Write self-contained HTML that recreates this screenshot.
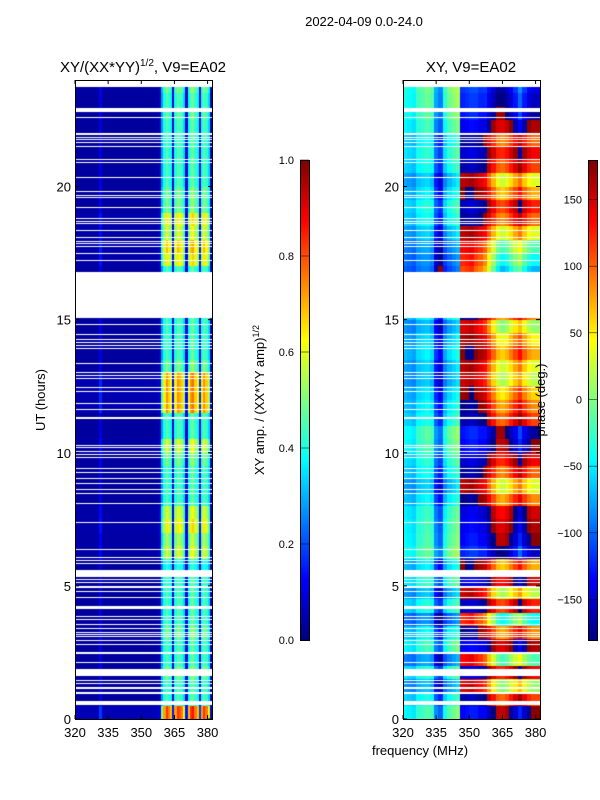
<!DOCTYPE html>
<html><head><meta charset="utf-8">
<style>
body{margin:0;background:#fff;width:600px;height:800px;overflow:hidden;font-family:"Liberation Sans",sans-serif;}
#wrap{position:relative;width:600px;height:800px;}
canvas{position:absolute;}
svg{position:absolute;left:0;top:0;}
</style></head>
<body>
<div id="wrap">
<canvas id="c1" width="137" height="639" style="left:75px;top:80px"></canvas>
<canvas id="c2" width="137" height="639" style="left:403px;top:80px"></canvas>
<canvas id="cb1" width="9" height="480" style="left:300px;top:160px"></canvas>
<canvas id="cb2" width="9" height="480" style="left:588px;top:160px"></canvas>
<svg id="ov" width="600" height="800"></svg>
</div>
<script>
// ---- data ----
const freqMin = 320, freqMax = 382;
const hourTicks = [0,5,10,15,20];
const freqTicks = [320,335,350,365,380];
const ampTicks = [0.0,0.2,0.4,0.6,0.8,1.0];
const phaseTicks = [-150,-100,-50,0,50,100,150];
// amplitude per 1 MHz channel (320..381)
const ampChan = [0.03,0.03,0.03,0.03,0.03,0.03,0.03,0.03,0.03,0.03,0.03,0.1,0.03,0.03,0.03,0.03,0.03,0.03,0.03,0.03,
 0.03,0.03,0.03,0.03,0.03,0.03,0.03,0.03,0.03,0.03,0.03,0.03,0.03,0.03,0.03,0.03,0.03,0.04,0.05,0.28,
 0.4,0.46,0.42,0.38,0.08,0.4,0.46,0.44,0.42,0.34,0.08,0.38,0.46,0.48,0.42,0.38,0.1,0.4,0.46,0.42,0.34,0.04];
// amplitude scale per half hour (0..24)
const ampHalfHour = [1.8,1.0,1.0,1.1,1.0,1.0,1.1,1.0,1.0,1.0,1.0,0.9,1.3,1.2,1.4,1.3,1.0,1.0,1.0,1.1,1.3,1.0,
 1.0,1.6,1.6,1.6,1.1,1.0,1.0,1.0,1.0,1.0,1.0,1.0,1.4,1.5,1.3,1.4,1.1,1.1,1.0,1.0,1.0,1.0,1.0,1.05,1.0,1.1];
// phase base per 2 MHz group (320..382)
const phaseChan = [-70,-75,-80,-60,-55,-50,-60,-120,-140,-80,-60,-50,-40,170,175,180,170,160,150,120,90,60,50,60,80,100,120,90,70,60,60];
const phaseGain = [0.3,0.3,0.3,0.35,0.35,0.4,0.4,0.4,0.45,0.45,0.5,0.5,0.5,0.6,0.6,0.6,0.7,0.7,0.8,0.9,1.0,1.1,1.2,1.2,1.2,1.2,1.3,1.3,1.3,1.3,1.3];
// phase offset per half hour
const phaseHalfHour = [90,40,-40,60,-60,80,20,-80,50,-30,70,10,110,90,80,70,20,-20,30,60,90,100,40,20,
 0,-30,-20,10,-10,-40,20,-60,-90,-100,-80,-60,-20,30,50,10,-20,40,60,30,80,100,110,120];
// data coverage [start,end] hours
const coverage = [[0,15.05],[16.77,23.75]];
// flagged (white) time ranges in hours
const gaps = [[0.53,0.68],[0.93,0.96],[1.0,1.03],[1.12,1.15],[1.19,1.22],[1.34,1.37],[1.45,1.48],[1.61,1.88],[2.09,2.13],[2.46,2.52],
[2.8,2.83],[2.95,2.98],[3.07,3.1],[3.18,3.21],[3.25,3.28],[3.37,3.4],[3.55,3.58],[3.74,3.77],[3.82,3.85],[4.13,4.24],
[4.57,4.6],[4.76,4.79],[4.91,4.94],[4.98,5.01],[5.13,5.16],[5.21,5.24],[5.33,5.59],[5.84,5.87],[5.96,5.99],[6.07,6.1],
[6.37,6.4],[7.38,7.41],[8.09,8.12],[8.47,8.5],[8.62,8.65],[8.85,8.88],[9.03,9.06],[9.26,9.29],[9.38,9.44],[9.82,9.85],
[9.93,9.96],[10.05,10.08],[10.2,10.23],[10.27,10.3],[11.27,11.33],[11.62,11.65],[11.85,11.88],[12.3,12.33],[12.45,12.48],[12.79,12.82],
[12.9,12.93],[13.01,13.04],[13.35,13.38],[13.91,13.94],[14.02,14.05],[14.14,14.17],[14.25,14.28],[14.44,14.47],[14.81,14.84],
[17.21,17.24],[17.48,17.51],[17.74,17.77],[17.85,17.88],[17.93,17.96],[18.08,18.11],[18.34,18.37],[18.6,18.63],[18.68,18.71],[18.79,18.82],
[19.2,19.23],[19.58,19.61],[19.65,19.68],[19.8,19.83],[20.33,20.36],[20.89,20.93],[21.0,21.03],[21.49,21.52],[21.64,21.67],[21.75,21.78],
[21.83,21.86],[21.94,21.97],[21.98,22.01],[22.58,22.61],[22.78,22.96]];

// ---- helpers ----
const W = 137, H = 639;
function xOf(f){ return (f - freqMin) / (freqMax - freqMin) * W; }
function yOf(h){ return H - h / 24 * H; }
function jet(v){
  v = Math.max(0, Math.min(1, v));
  const r = Math.max(0, Math.min(1, 1.5 - Math.abs(4*v - 3)));
  const g = Math.max(0, Math.min(1, 1.5 - Math.abs(4*v - 2)));
  const b = Math.max(0, Math.min(1, 1.5 - Math.abs(4*v - 1)));
  return 'rgb(' + Math.round(r*255) + ',' + Math.round(g*255) + ',' + Math.round(b*255) + ')';
}
function wrap(p){ return ((p + 180) % 360 + 360) % 360 - 180; }

function drawPanel(id, valFn){
  const ctx = document.getElementById(id).getContext('2d');
  ctx.fillStyle = '#fff'; ctx.fillRect(0,0,W,H);
  for (let r = 0; r < 48; r++){
    for (let c = 0; c < ampChan.length; c++){
      const f0 = freqMin + c, h0 = r * 0.5;
      ctx.fillStyle = jet(valFn(r, c));
      for (const cv of coverage){
        const a = Math.max(h0, cv[0]), b = Math.min(h0 + 0.5, cv[1]);
        if (b > a){
          const x0 = Math.round(xOf(f0)), x1 = Math.round(xOf(f0 + 1));
          const y0 = Math.round(yOf(b)), y1 = Math.round(yOf(a));
          ctx.fillRect(x0, y0, x1 - x0, y1 - y0);
        }
      }
    }
  }
  ctx.fillStyle = '#fff';
  gaps.forEach(g => {
    const y0 = Math.round(yOf(g[1])), y1 = Math.round(yOf(g[0]));
    ctx.fillRect(0, y0, W, Math.max(1, y1 - y0));
  });
}
drawPanel('c1', (r, c) => ampChan[c] * ampHalfHour[r]);
drawPanel('c2', (r, c) => {
  const g = Math.floor(c / 2);
  return (wrap(phaseChan[g] + phaseHalfHour[r] * phaseGain[g]) + 180) / 360;
});
['cb1','cb2'].forEach(id => {
  const ctx = document.getElementById(id).getContext('2d');
  for (let y = 0; y < 480; y++){ ctx.fillStyle = jet(1 - y / 479); ctx.fillRect(0, y, 9, 1); }
});

// ---- axes overlay ----
const NS = 'http://www.w3.org/2000/svg';
const svg = document.getElementById('ov');
function el(tag, attrs, txt){
  const e = document.createElementNS(NS, tag);
  for (const k in attrs) e.setAttribute(k, attrs[k]);
  if (txt !== undefined) e.textContent = txt;
  svg.appendChild(e); return e;
}
function text(x, y, s, anchor, size, name, rot){
  const t = el('text', {x:x, y:y, 'text-anchor':anchor, 'font-size':size, 'font-family':'Liberation Sans, sans-serif', fill:'#000'}, s);
  if (rot) t.setAttribute('transform', 'rotate(' + rot + ' ' + x + ' ' + y + ')');
  
  
  return t;
}
[75, 403].forEach((L, pi) => {
  const fr = el('rect', {x:L+0.5, y:80.5, width:W, height:H, fill:'none', stroke:'#000', 'stroke-width':1});
  
  
  hourTicks.forEach(h => {
    const y = 80 + yOf(h);
    const t1 = el('line', {x1:L, x2:L+4, y1:y, y2:y, stroke:'#000'});
    
    
    const t2 = el('line', {x1:L+W-4, x2:L+W, y1:y, y2:y, stroke:'#000'});
    
    
    text(L-4, y+5, String(h), 'end', 13, 'y-tick-label');
  });
  freqTicks.forEach(f => {
    const x = L + xOf(f);
    const t1 = el('line', {x1:x, x2:x, y1:80+H, y2:80+H-4, stroke:'#000'});
    
    
    const t2 = el('line', {x1:x, x2:x, y1:80, y2:84, stroke:'#000'});
    
    
    text(x, 737, String(f), 'middle', 13, 'x-tick-label');
  });
});
[[300, ampTicks, v => 640 - v * 480, v => v.toFixed(1), 'amp'], [588, phaseTicks, v => 399.5 - v * 480 / 360, v => String(v).replace('-', '\u2212'), 'phase']].forEach(cb => {
  const [L, ticks, yf, fmt, nm] = cb;
  const fr = el('rect', {x:L+0.5, y:160.5, width:9, height:480, fill:'none', stroke:'#000'});
  
  
  ticks.forEach(v => {
    const y = yf(v);
    const t = el('line', {x1:L, x2:L+9, y1:y, y2:y, stroke:'#000', 'stroke-width':0.5});
    
    
    text(L-6, y+4, fmt(v), 'end', 11, nm + '-colorbar-label');
  });
});
text(364, 26, '2022-04-09 0.0-24.0', 'middle', 13, 'figure-title');
const t1 = text(143, 72, 'XY/(XX*YY)', 'middle', 15, 'amp-panel-title');
const sup = document.createElementNS(NS, 'tspan'); sup.setAttribute('dy', -6); sup.setAttribute('font-size', 10); sup.textContent = '1/2'; t1.appendChild(sup);
const rest = document.createElementNS(NS, 'tspan'); rest.setAttribute('dy', 6); rest.textContent = ', V9=EA02'; t1.appendChild(rest);
text(471, 72, 'XY, V9=EA02', 'middle', 15, 'phase-panel-title');
text(420, 755, 'frequency (MHz)', 'middle', 13, 'x-axis-title');
text(45, 400, 'UT (hours)', 'middle', 13, 'y-axis-title', -90);
const cl = text(264, 400, 'XY amp. / (XX*YY amp)', 'middle', 13, 'amp-colorbar-title', -90);
const s2 = document.createElementNS(NS, 'tspan'); s2.setAttribute('dy', -5); s2.setAttribute('font-size', 9); s2.textContent = '1/2'; cl.appendChild(s2);
text(545, 400, 'phase (deg.)', 'middle', 13, 'phase-colorbar-title', -90);
</script>
</body></html>
